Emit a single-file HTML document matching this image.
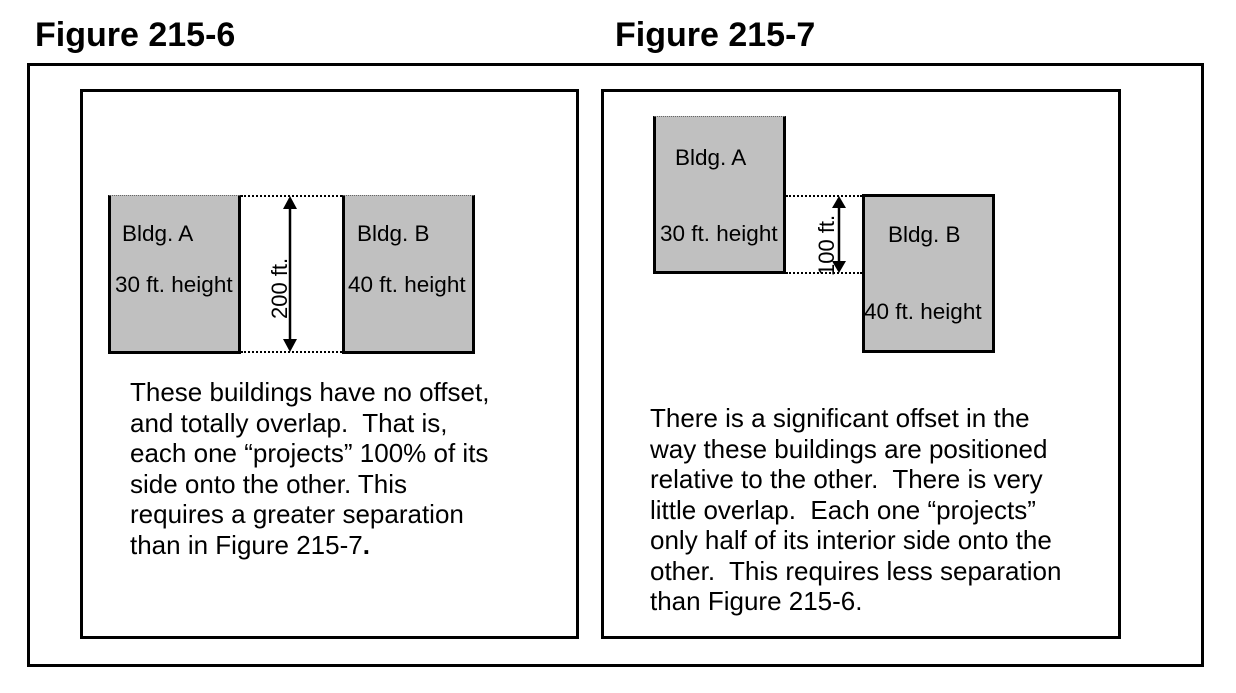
<!DOCTYPE html>
<html><head><style>
body{margin:0;width:1236px;height:693px;background:#fff;position:relative;overflow:hidden;font-family:"Liberation Sans",sans-serif;color:#000}
.a{position:absolute}
.t{font-weight:bold;font-size:34px;top:16px}
.box{border:3px solid #000;box-sizing:border-box}
.b{background:#c0c0c0;border:3px solid #000;border-top:1px dotted #666;box-sizing:border-box;font-size:22.5px}
.b span{white-space:nowrap}
.p{font-size:26px;line-height:30.5px;white-space:nowrap}
.dot{border-top:2px dotted #000;height:0}
</style></head><body>
<div class="a t" style="left:35px">Figure 215-6</div>
<div class="a t" style="left:615px">Figure 215-7</div>
<div class="a box" style="left:27px;top:63px;width:1177px;height:604px"></div>
<div class="a box" style="left:80px;top:89px;width:499px;height:550px"></div>
<div class="a box" style="left:601px;top:89px;width:520px;height:550px"></div>

<div class="a b" style="left:108px;top:195px;width:133px;height:159px"><span class="a" style="left:11px;top:25px">Bldg. A</span><span class="a" style="left:4px;top:76px">30 ft. height</span></div>
<div class="a b" style="left:342px;top:195px;width:133px;height:159px"><span class="a" style="left:12px;top:25px">Bldg. B</span><span class="a" style="left:3px;top:76px">40 ft. height</span></div>
<div class="a dot" style="left:241px;top:195px;width:101px"></div>
<div class="a dot" style="left:241px;top:351px;width:101px"></div>
<svg class="a" style="left:0;top:0" width="1236" height="693">
<line x1="290" y1="206" x2="290" y2="342" stroke="#000" stroke-width="2.5"/>
<path d="M283,209 L290,196 L297,209z M283,339 L290,352 L297,339z"/>
<line x1="839" y1="205" x2="839" y2="264" stroke="#000" stroke-width="2.5"/>
<path d="M832,208 L839,196 L846,208z M832,261 L839,273 L846,261z"/>
<text transform="translate(287,319) rotate(-90)" font-family="Liberation Sans" font-size="22">200 ft.</text>
<text transform="translate(834,276) rotate(-90)" font-family="Liberation Sans" font-size="22">100 ft.</text>
</svg>
<div class="a b" style="left:653px;top:116px;width:133px;height:158px"><span class="a" style="left:19px;top:28px">Bldg. A</span><span class="a" style="left:4px;top:104px">30 ft. height</span></div>
<div class="a b" style="left:862px;top:194px;width:133px;height:159px;border-top:3px solid #000"><span class="a" style="left:23px;top:25px">Bldg. B</span><span class="a" style="left:-1px;top:102px">40 ft. height</span></div>
<div class="a dot" style="left:786px;top:195px;width:76px"></div>
<div class="a dot" style="left:786px;top:272px;width:76px"></div>

<div class="a p" style="left:130px;top:377px">These buildings have no offset,<br>and totally overlap.&nbsp; That is,<br>each one “projects” 100% of its<br>side onto the other. This<br>requires a greater separation<br>than in Figure 215-7<b>.</b></div>
<div class="a p" style="left:650px;top:403px">There is a significant offset in the<br>way these buildings are positioned<br>relative to the other.&nbsp; There is very<br>little overlap.&nbsp; Each one “projects”<br>only half of its interior side onto the<br>other.&nbsp; This requires less separation<br>than Figure 215-6.</div>
</body></html>
